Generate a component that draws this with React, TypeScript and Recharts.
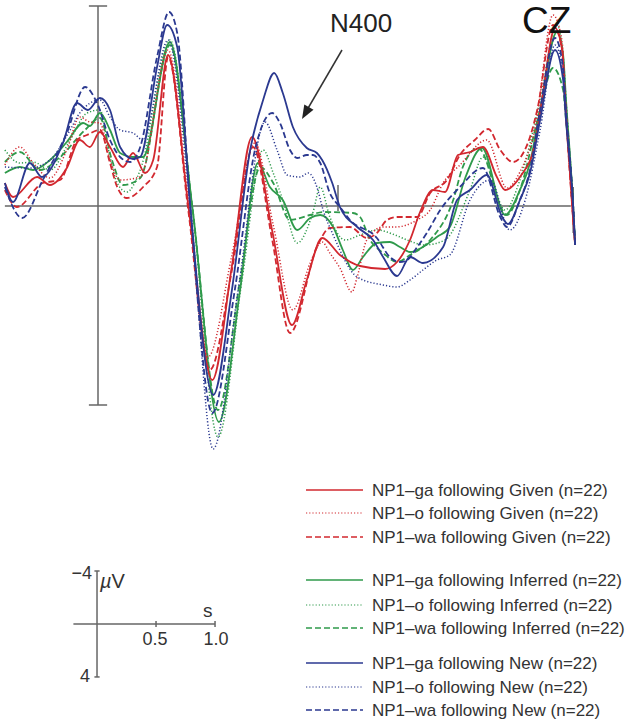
import React from 'react';
import { LineChart, Line, XAxis, YAxis, ReferenceLine } from 'recharts';

// ERP waveforms at CZ, time in ms, amplitude in µV (negative plotted up)
const gaGiven: [number, number][] = [
  [-194, -0.46], [-177, -0.18], [-127, -0.58], [-100, -0.42], [-65, -0.76], [-38, -1.32], [-17, -1.18],
  [4, -1.48], [25, -1.18], [52, -0.78], [73, -1.06], [98, -0.66], [115, -0.92], [146, -3.02], [188, -0.02],
  [238, 3.48], [279, 1.2], [321, -1.38], [363, 0.5], [404, 2.38], [435, 1.48], [467, 0.64], [504, 0.98],
  [546, 1.2], [598, 1.26], [623, 1.12], [650, 0.68], [671, 0.12], [698, -0.32], [723, -0.28], [750, -1.02],
  [775, -1.08], [802, -1.18], [831, -0.58], [848, -0.32], [879, -0.58], [910, -1.22], [925, -2.12],
  [952, -3.56], [967, -3.12], [973, -2.12], [988, 0.02], [994, 0.78],
];
const oGiven: [number, number][] = [
  [-194, -0.82], [-163, -1.18], [-135, -0.86], [-100, -0.56], [-65, -1.12], [-38, -1.78], [-17, -1.68],
  [4, -1.66], [25, -0.92], [46, -0.52], [88, -0.58], [146, -3.12], [188, -0.12], [229, 3.02], [279, 0.98],
  [327, -1.26], [365, 0.38], [406, 2.08], [442, 1.14], [467, 0.72], [483, 0.94], [504, 1.24], [529, 1.72],
  [540, 1.42], [560, 0.68], [594, 0.42], [619, 0.42], [665, 0.28], [692, 0.08], [719, -0.46], [754, -0.82],
  [810, -1.32], [852, -0.36], [879, -0.68], [910, -1.52], [948, -3.82], [967, -3.28], [973, -2.22],
  [988, 0.02], [994, 0.78],
];
const waGiven: [number, number][] = [
  [-194, -0.32], [-169, 0.02], [-115, -0.46], [-79, -0.52], [-44, -1.32], [-23, -1.42], [4, -1.52],
  [25, -0.86], [40, -0.38], [60, -0.16], [94, -0.38], [123, -0.78], [146, -2.98], [188, 0.08], [233, 3.28],
  [279, 1.28], [323, -1.18], [363, 0.68], [400, 2.54], [456, 0.82], [483, 0.44], [525, 0.42], [560, 0.64],
  [581, 0.54], [602, 0.28], [623, 0.22], [665, 0.22], [692, -0.26], [727, -0.52], [754, -1.02], [785, -1.32],
  [813, -1.54], [838, -1.12], [865, -0.88], [900, -1.38], [915, -1.92], [948, -3.62], [967, -3.12],
  [973, -2.12], [988, 0.02], [994, 0.78],
];
const gaInferred: [number, number][] = [
  [-194, -0.66], [-163, -0.78], [-135, -0.72], [-100, -0.92], [-65, -1.28], [-31, -1.66], [-17, -1.6],
  [4, -1.86], [25, -1.52], [46, -1.06], [73, -0.98], [94, -0.98], [150, -3.28], [196, -0.02], [252, 4.32],
  [296, 1.68], [333, -0.86], [358, -0.38], [385, -0.12], [415, 0.48], [442, 0.24], [463, 0.18], [490, 0.42],
  [510, 0.88], [531, 1.28], [552, 1.02], [581, 0.74], [608, 0.72], [629, 0.82], [650, 0.92], [677, 0.82],
  [706, 0.62], [733, 0.42], [765, -0.56], [800, -1.16], [848, 0.18], [879, -0.32], [900, -0.86],
  [921, -1.92], [956, -3.48], [969, -3.02], [975, -2.12], [990, 0.02], [994, 0.78],
];
const oInferred: [number, number][] = [
  [-194, -1.12], [-163, -0.86], [-135, -0.88], [-100, -0.72], [-58, -1.32], [-23, -1.86], [4, -1.92],
  [25, -0.98], [40, -0.46], [60, -0.28], [88, -0.72], [150, -3.32], [196, -0.02], [250, 4.62], [300, 1.48],
  [344, -1.12], [365, -0.66], [385, -0.12], [415, 0.74], [448, 0.12], [463, -0.38], [483, 0.22], [515, 0.68],
  [546, 0.58], [581, 0.48], [619, 0.58], [644, 0.68], [681, 0.78], [723, 0.68], [775, -0.32], [802, -0.98],
  [848, 0.08], [879, -0.52], [921, -2.12], [956, -3.62], [969, -3.02], [975, -2.12], [990, 0.02], [994, 0.78],
];
const waInferred: [number, number][] = [
  [-194, -0.88], [-163, -1.08], [-121, -0.72], [-79, -0.98], [-27, -1.52], [4, -1.76], [29, -0.92],
  [52, -0.42], [88, -0.56], [150, -3.22], [196, -0.02], [250, 4.08], [296, 1.48], [338, -0.78], [365, -0.46],
  [400, 0.28], [442, 0.18], [469, 0.12], [531, 0.14], [546, 0.22], [567, 0.68], [594, 0.94], [623, 1.12],
  [650, 0.98], [692, 0.68], [740, -0.12], [760, -0.78], [792, -1.16], [852, 0.18], [879, -0.32],
  [921, -1.92], [948, -2.76], [969, -2.32], [975, -1.72], [990, 0.02], [994, 0.78],
];
const gaNew: [number, number][] = [
  [-194, -0.46], [-177, -0.08], [-142, -0.86], [-117, -0.58], [-73, -1.26], [-44, -2.06], [-21, -1.92],
  [4, -2.16], [25, -1.92], [46, -1.18], [73, -0.94], [88, -0.98], [123, -2.78], [144, -3.62], [165, -3.18],
  [192, -0.02], [240, 3.78], [279, 1.68], [317, -1.12], [344, -2.12], [367, -2.66], [385, -2.26],
  [406, -1.58], [435, -1.16], [456, -1.06], [467, -0.92], [488, -0.46], [504, 0.02], [540, 0.42],
  [573, 0.68], [594, 1.02], [623, 1.4], [650, 1.02], [677, 1.14], [719, 0.82], [748, -0.12], [775, -0.32],
  [810, -0.62], [842, 0.22], [854, 0.36], [879, -0.12], [900, -0.66], [921, -1.72], [952, -3.12],
  [969, -2.52], [975, -1.72], [990, 0.02], [994, 0.78],
];
const oNew: [number, number][] = [
  [-194, -0.78], [-142, -0.76], [-100, -0.92], [-58, -1.52], [-38, -1.86], [4, -2.12], [25, -1.78],
  [46, -1.52], [73, -1.46], [94, -1.32], [146, -3.32], [192, -0.02], [240, 4.86], [292, 1.68], [348, -1.68],
  [373, -1.12], [394, -0.62], [421, -0.58], [438, -0.66], [456, -0.38], [469, 0.08], [490, 0.58], [540, 1.42],
  [594, 1.58], [623, 1.62], [650, 1.48], [677, 1.28], [706, 1.08], [733, 0.98], [775, -0.12], [817, -0.52],
  [858, 0.48], [890, -0.12], [921, -1.52], [952, -3.22], [969, -2.62], [975, -1.82], [990, 0.02], [994, 0.78],
];
const waNew: [number, number][] = [
  [-194, -0.38], [-158, 0.24], [-115, -0.52], [-65, -1.46], [-27, -2.38], [-2, -2.06], [25, -1.32],
  [46, -0.98], [67, -0.88], [88, -1.18], [123, -2.98], [148, -3.88], [165, -3.46], [192, -0.02], [238, 4.14],
  [285, 1.68], [327, -1.12], [363, -1.86], [379, -1.66], [400, -1.12], [415, -0.96], [435, -1.02],
  [448, -1.02], [463, -0.86], [483, -0.26], [504, 0.02], [525, 0.28], [581, 0.64], [608, 1.02], [629, 1.12],
  [644, 1.08], [665, 0.82], [685, 0.54], [713, 0.08], [754, -0.38], [802, -0.76], [838, 0.22], [852, 0.42],
  [879, -0.12], [900, -0.72], [921, -1.92], [952, -3.36], [969, -2.76], [975, -1.92], [990, 0.02], [994, 0.78],
];

const RED = '#d2282f';
const GREEN = '#2f9a4b';
const BLUE = '#2b3990';
const AXIS = '#666';
const FONT = '"Liberation Sans", Arial, Helvetica, sans-serif';

const DOTTED = '1.2 2';
const DASHED = '6 3';

const SERIES = [
  { name: 'NP1\u2013ga following Given (n=22)', pts: gaGiven, color: RED, dash: undefined },
  { name: 'NP1\u2013o following Given (n=22)', pts: oGiven, color: RED, dash: DOTTED },
  { name: 'NP1\u2013wa following Given (n=22)', pts: waGiven, color: RED, dash: DASHED },
  { name: 'NP1\u2013ga following Inferred (n=22)', pts: gaInferred, color: GREEN, dash: undefined },
  { name: 'NP1\u2013o following Inferred (n=22)', pts: oInferred, color: GREEN, dash: DOTTED },
  { name: 'NP1\u2013wa following Inferred (n=22)', pts: waInferred, color: GREEN, dash: DASHED },
  { name: 'NP1\u2013ga following New (n=22)', pts: gaNew, color: BLUE, dash: undefined },
  { name: 'NP1\u2013o following New (n=22)', pts: oNew, color: BLUE, dash: DOTTED },
  { name: 'NP1\u2013wa following New (n=22)', pts: waNew, color: BLUE, dash: DASHED },
];
const DRAW_ORDER = [3, 4, 5, 0, 1, 2, 6, 7, 8];
const LEGEND_Y = [490, 513, 537, 580, 605, 628, 663, 687, 710];

const toRows = (pts: [number, number][]) => pts.map(([t, v]) => ({ t, v }));

function ScaleBar() {
  return (
    <LineChart width={260} height={160} margin={{ top: 0, right: 0, bottom: 0, left: 0 }}>
      <XAxis type="number" dataKey="t" hide domain={[-0.822, 1.381]} allowDataOverflow />
      <YAxis type="number" hide reversed domain={[-6.34, 5.74]} allowDataOverflow />
      <ReferenceLine segment={[{ x: 0, y: -4 }, { x: 0, y: 4 }]} stroke={AXIS} strokeWidth={1.5} />
      <ReferenceLine segment={[{ x: -0.022, y: -4 }, { x: 0.022, y: -4 }]} stroke={AXIS} strokeWidth={1.5} />
      <ReferenceLine segment={[{ x: -0.022, y: 4 }, { x: 0.022, y: 4 }]} stroke={AXIS} strokeWidth={1.5} />
      <ReferenceLine segment={[{ x: -0.2, y: 0 }, { x: 1.0, y: 0 }]} stroke={AXIS} strokeWidth={1.5} />
      <ReferenceLine segment={[{ x: 0.5, y: -0.23 }, { x: 0.5, y: 0.23 }]} stroke={AXIS} strokeWidth={1.5} />
      <ReferenceLine segment={[{ x: 1.0, y: -0.23 }, { x: 1.0, y: 0.23 }]} stroke={AXIS} strokeWidth={1.5} />
    </LineChart>
  );
}

export default function App() {
  return (
    <div style={{ position: 'absolute', left: 0, top: 0, width: 630, height: 723, background: '#fff', fontFamily: FONT }}>
      <div style={{ position: 'absolute', left: 0, top: 0 }}>
        <LineChart width={630} height={460} margin={{ top: 0, right: 0, bottom: 0, left: 0 }}>
          <XAxis type="number" dataKey="t" hide domain={[-204.17, 1108.33]} allowDataOverflow />
          <YAxis type="number" hide reversed domain={[-4.12, 5.08]} allowDataOverflow />
          <ReferenceLine segment={[{ x: 0, y: -4 }, { x: 0, y: 3.98 }]} stroke={AXIS} strokeWidth={1.5} />
          <ReferenceLine segment={[{ x: -19, y: -4 }, { x: 19, y: -4 }]} stroke={AXIS} strokeWidth={1.5} />
          <ReferenceLine segment={[{ x: -19, y: 3.98 }, { x: 19, y: 3.98 }]} stroke={AXIS} strokeWidth={1.5} />
          <ReferenceLine segment={[{ x: -194, y: 0 }, { x: 985, y: 0 }]} stroke={AXIS} strokeWidth={1.5} />
          <ReferenceLine segment={[{ x: 500, y: -0.42 }, { x: 500, y: 0.1 }]} stroke={AXIS} strokeWidth={1.5} />
          <ReferenceLine segment={[{ x: 990, y: -0.38 }, { x: 990, y: 0.54 }]} stroke={AXIS} strokeWidth={1.5} />
          {DRAW_ORDER.map((i) => {
            const s = SERIES[i];
            return (
              <Line
                key={s.name}
                name={s.name}
                data={toRows(s.pts)}
                dataKey="v"
                type="monotone"
                stroke={s.color}
                strokeWidth={s.dash === DOTTED ? 1.5 : 1.8}
                strokeDasharray={s.dash}
                dot={false}
                activeDot={false}
                isAnimationActive={false}
              />
            );
          })}
        </LineChart>
      </div>

      <div style={{ position: 'absolute', left: 0, top: 540 }}>
        <ScaleBar />
      </div>

      <svg width={630} height={723} style={{ position: 'absolute', left: 0, top: 0, pointerEvents: 'none' }}>
        <text x={330} y={32} fontSize={26} fill="#222" fontFamily={FONT}>N400</text>
        <line x1={342} y1={50} x2={307} y2={110} stroke="#333" strokeWidth={1.5} />
        <polygon points="302,119 313.5,109.8 304.3,104.4" fill="#222" />
        <text x={522} y={33} fontSize={37} fill="#111" fontFamily={FONT}>CZ</text>

        {SERIES.map((s, i) => (
          <g key={s.name}>
            <line x1={306} x2={363} y1={LEGEND_Y[i]} y2={LEGEND_Y[i]} stroke={s.color}
              strokeWidth={s.dash === DOTTED ? 1.2 : 1.6} strokeDasharray={s.dash} />
            <text x={372} y={LEGEND_Y[i] + 6} fontSize={17} fill="#333" fontFamily={FONT}>{s.name}</text>
          </g>
        ))}

        <text x={92} y={579} fontSize={18} fill="#333" textAnchor="end" fontFamily={FONT}>{'\u22124'}</text>
        <text x={90} y={682} fontSize={18} fill="#333" textAnchor="end" fontFamily={FONT}>4</text>
        <text x={100} y={588} fontSize={20} fill="#333" fontFamily={FONT}>
          <tspan fontStyle="italic">{'\u00b5'}</tspan>V
        </text>
        <text x={203} y={617} fontSize={19} fill="#333" fontFamily={FONT}>s</text>
        <text x={155} y={645} fontSize={18} fill="#333" textAnchor="middle" fontFamily={FONT}>0.5</text>
        <text x={216} y={645} fontSize={18} fill="#333" textAnchor="middle" fontFamily={FONT}>1.0</text>
      </svg>
    </div>
  );
}
